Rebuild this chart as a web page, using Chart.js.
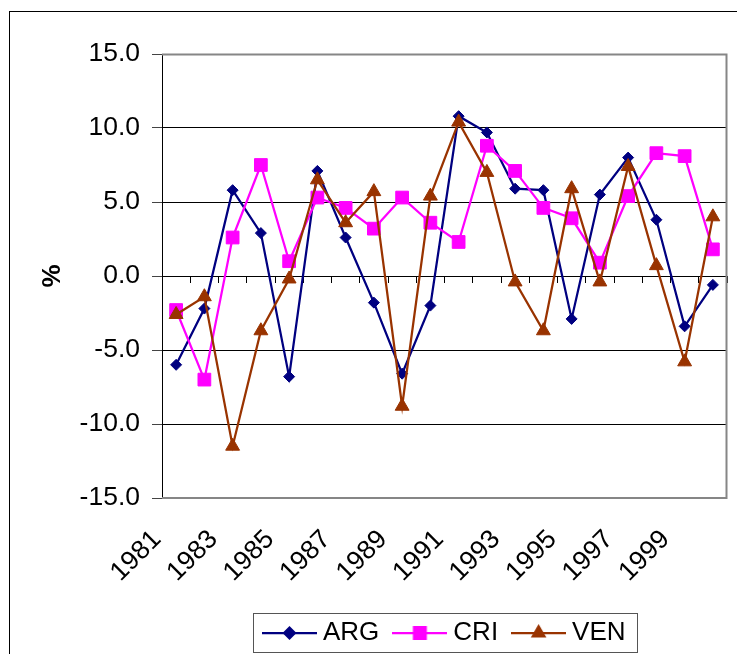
<!DOCTYPE html>
<html>
<head>
<meta charset="utf-8">
<script src="https://cdn.jsdelivr.net/npm/chart.js@4.4.1/dist/chart.umd.min.js"></script>
<style>
html,body{margin:0;padding:0;background:#fff;overflow:hidden}
canvas{display:block}
</style>
</head>
<body>
<canvas id="c" width="737" height="654"></canvas>
<script>
// ---- data ----
const years = ['1981','1982','1983','1984','1985','1986','1987','1988','1989','1990',
               '1991','1992','1993','1994','1995','1996','1997','1998','1999','2000'];
const tickYears = ['1981','1983','1985','1987','1989','1991','1993','1995','1997','1999'];
const argValues = [-6.0, -2.2, 5.8, 2.9, -6.8, 7.1, 2.6, -1.8, -6.6, -2.0,
                   10.8, 9.7, 5.9, 5.8, -2.9, 5.5, 8.0, 3.8, -3.4, -0.6];
const criValues = [-2.3, -7.0, 2.6, 7.5, 1.0, 5.3, 4.6, 3.2, 5.3, 3.6,
                   2.3, 8.8, 7.1, 4.6, 3.9, 0.9, 5.4, 8.3, 8.1, 1.8];
const venValues = [-2.6, -1.4, -11.5, -3.7, -0.2, 6.5, 3.6, 5.7, -8.8, 5.4,
                   10.4, 7.0, -0.4, -3.7, 5.9, -0.4, 7.4, 0.7, -5.8, 4.0];
const seriesNames = ['ARG', 'CRI', 'VEN'];
const yMin = -15, yMax = 15, yStep = 5;
const yAxisTitle = '%';

// ---- styles ----
const FONT = "'Liberation Sans', Arial, Helvetica, sans-serif";
const NAVY = '#000080', MAGENTA = '#FF00FF', BROWN = '#993300';
const LEGEND_FONT = 26, LEGEND_PAD = 20, LEGEND_IMG_W = 55, LEGEND_BOX_W = 41;

Chart.defaults.font.family = FONT;
Chart.defaults.color = '#000';

function legendImage(color, shape) {
  const c = document.createElement('canvas');
  c.width = LEGEND_IMG_W; c.height = 26;
  const g = c.getContext('2d');
  g.strokeStyle = color; g.fillStyle = color; g.lineWidth = 2.25;
  g.beginPath(); g.moveTo(0, 13); g.lineTo(LEGEND_IMG_W, 13); g.stroke();
  const cx = LEGEND_IMG_W / 2, cy = 13;
  g.beginPath();
  if (shape === 'rectRot') {
    const r = 7;
    g.moveTo(cx - r, cy); g.lineTo(cx, cy - r); g.lineTo(cx + r, cy); g.lineTo(cx, cy + r);
  } else if (shape === 'rect') {
    const s = 7;
    g.rect(cx - s, cy - s, 2 * s, 2 * s);
  } else {
    const r = 9;
    g.moveTo(cx, cy - r); g.lineTo(cx + r * 0.866, cy + r / 2); g.lineTo(cx - r * 0.866, cy + r / 2);
  }
  g.closePath(); g.fill();
  return c;
}
const legendImages = [legendImage(NAVY, 'rectRot'), legendImage(MAGENTA, 'rect'), legendImage(BROWN, 'triangle')];

const pagePlugin = {
  id: 'page',
  beforeDraw(chart) {
    const ctx = chart.ctx;
    ctx.save();
    ctx.fillStyle = '#fff';
    ctx.fillRect(0, 0, chart.width, chart.height);
    ctx.strokeStyle = '#000'; ctx.lineWidth = 1;
    ctx.strokeRect(9.5, 11.5, chart.width + 50, chart.height + 50);
    ctx.restore();
  },
  beforeDatasetsDraw(chart) {
    const a = chart.chartArea, ctx = chart.ctx;
    ctx.save();
    ctx.strokeStyle = '#868686'; ctx.lineWidth = 2;
    ctx.beginPath();
    ctx.moveTo(a.left, a.top + 0.5);
    ctx.lineTo(a.right - 0.5, a.top + 0.5);
    ctx.lineTo(a.right - 0.5, a.bottom);
    ctx.lineTo(a.left, a.bottom);
    ctx.stroke();
    ctx.restore();
  },
  afterLayout(chart) {
    if (chart.legend) chart.legend.left = 249;
  },
  afterDraw(chart) {
    const lg = chart.legend;
    if (!lg || !lg.lineWidths) return;
    const ctx = chart.ctx;
    const startX = lg.left + LEGEND_PAD;
    const endX = startX + lg.lineWidths[0] - LEGEND_PAD;
    const cy = lg.top + LEGEND_PAD + LEGEND_FONT / 2;
    const x0 = Math.round(startX - (LEGEND_IMG_W - LEGEND_BOX_W) / 2 - 9) + 0.5;
    const x1 = Math.round(endX + 11) + 0.5;
    ctx.save();
    ctx.strokeStyle = '#555'; ctx.lineWidth = 1;
    ctx.strokeRect(x0, Math.round(cy - 20) + 0.5, x1 - x0, 39);
    ctx.restore();
  }
};

const axisFont = {family: FONT, size: 26.5};

new Chart(document.getElementById('c'), {
  type: 'line',
  data: {
    labels: years,
    datasets: [
      {label: seriesNames[0], data: argValues, xAxisID: 'x', yAxisID: 'y',
       borderColor: NAVY, backgroundColor: NAVY, borderWidth: 2.25,
       pointStyle: 'rectRot', pointRadius: 5.5, pointBorderWidth: 1,
       pointBackgroundColor: NAVY, pointBorderColor: NAVY, tension: 0, order: 2},
      {label: seriesNames[1], data: criValues, xAxisID: 'x', yAxisID: 'y',
       borderColor: MAGENTA, backgroundColor: MAGENTA, borderWidth: 2.25,
       pointStyle: 'rect', pointRadius: 9, pointBorderWidth: 1,
       pointBackgroundColor: MAGENTA, pointBorderColor: MAGENTA, tension: 0, order: 1},
      {label: seriesNames[2], data: venValues, xAxisID: 'x', yAxisID: 'y',
       borderColor: BROWN, backgroundColor: BROWN, borderWidth: 2.25,
       pointStyle: 'triangle', pointRadius: 8, pointBorderWidth: 1,
       pointBackgroundColor: BROWN, pointBorderColor: BROWN, tension: 0, order: 0}
    ]
  },
  options: {
    responsive: false,
    animation: false,
    devicePixelRatio: 1,
    layout: {padding: {left: 0, right: 8, top: 54, bottom: -2}},
    plugins: {
      tooltip: {enabled: false},
      legend: {
        position: 'bottom',
        align: 'start',
        labels: {
          usePointStyle: true,
          pointStyleWidth: LEGEND_BOX_W,
          padding: LEGEND_PAD,
          color: '#000',
          font: {family: FONT, size: LEGEND_FONT},
          generateLabels(chart) {
            return chart.data.datasets.map((ds, i) => ({
              text: ds.label,
              pointStyle: legendImages[i],
              fontColor: '#000',
              fillStyle: ds.backgroundColor,
              strokeStyle: ds.borderColor,
              lineWidth: 0,
              hidden: false,
              datasetIndex: i
            }));
          }
        }
      }
    },
    scales: {
      x: {
        type: 'category',
        position: 'bottom',
        offset: true,
        grid: {display: false, drawTicks: false},
        border: {display: false},
        ticks: {
          autoSkip: false,
          minRotation: 45,
          maxRotation: 45,
          labelOffset: -19,
          padding: 26,
          color: '#000',
          font: axisFont,
          callback(value) {
            const l = this.getLabelForValue(value);
            return tickYears.includes(l) ? l : '';
          }
        },
        afterFit(scale) {
          scale.height = 102;
          scale.paddingLeft = 0;
          scale.paddingRight = 0;
        }
      },
      x2: {
        type: 'category',
        position: {y: 0},
        offset: true,
        grid: {offset: true, drawOnChartArea: false, drawTicks: true, tickLength: 6, color: '#000', lineWidth: 1},
        border: {display: true, color: '#000', width: 1},
        ticks: {display: false},
        afterFit(scale) {
          scale.paddingLeft = 0;
          scale.paddingRight = 0;
        }
      },
      y: {
        type: 'linear',
        position: 'left',
        min: yMin,
        max: yMax,
        ticks: {
          stepSize: yStep,
          padding: 12,
          color: '#000',
          font: axisFont,
          callback: v => Number(v).toFixed(1)
        },
        grid: {
          drawTicks: true,
          tickLength: 10,
          tickColor: '#444',
          lineWidth: 1,
          color: ctx => (ctx.tick && Math.abs(ctx.tick.value) === yMax) ? 'rgba(0,0,0,0)' : '#000'
        },
        border: {display: true, color: '#000', width: 1},
        title: {
          display: true,
          text: yAxisTitle,
          color: '#000',
          font: {family: FONT, size: 26, weight: 'bold'},
          padding: {top: 37, bottom: 0}
        },
        afterFit(scale) {
          scale.width = 162;
          scale.paddingTop = 0;
          scale.paddingBottom = 0;
        }
      }
    }
  },
  plugins: [pagePlugin]
});
</script>
</body>
</html>
